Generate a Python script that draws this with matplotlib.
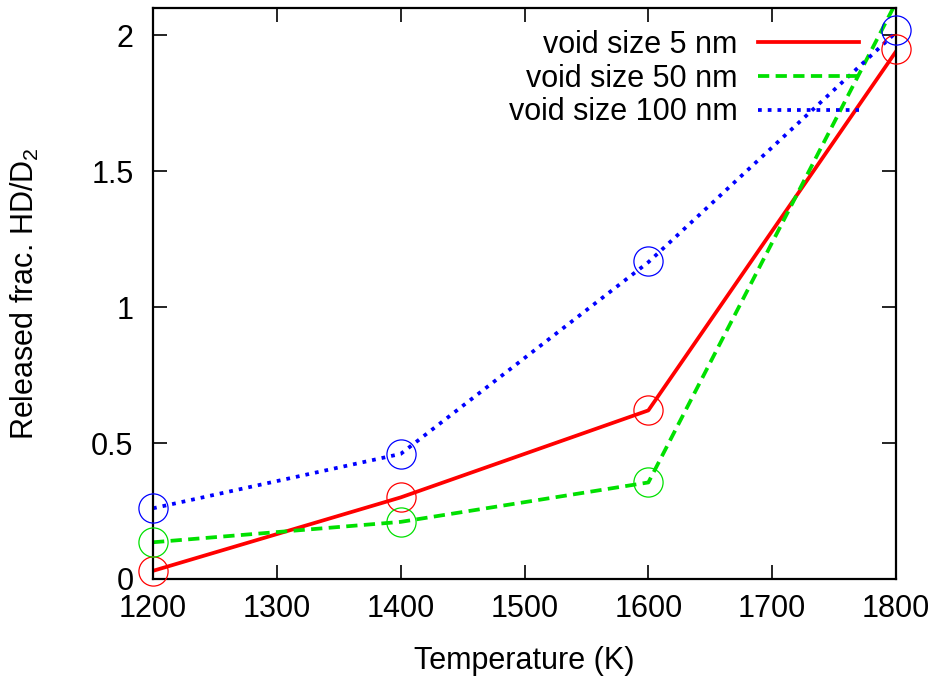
import matplotlib
matplotlib.use("Agg")
import matplotlib.pyplot as plt
import numpy as np

plt.rcParams['font.family'] = ['Liberation Sans', 'DejaVu Sans']
plt.rcParams['mathtext.default'] = 'regular'

temps = [1200, 1400, 1600, 1800]
labels = ["void size 5 nm", "void size 50 nm", "void size 100 nm"]
line_5 = [0.03, 0.30, 0.62, 1.94]
line_50 = [0.135, 0.21, 0.355, 2.12]
line_100 = [0.26, 0.46, 1.165, 2.01]
circ_5 = [0.03, 0.30, 0.62, 1.95]
circ_50 = [0.135, 0.21, 0.355, 2.12]
circ_100 = [0.26, 0.46, 1.17, 2.02]
colors = ['#ff0000', '#00e000', '#0000ff']
xticks = [1200, 1300, 1400, 1500, 1600, 1700, 1800]
yticks = [0, 0.5, 1, 1.5, 2]
ytick_labels = ['0', '0.5', '1', '1.5', '2']
ymax = 2.1

fig = plt.figure(figsize=(9.4, 6.79), dpi=100)
ax = fig.add_axes([0.1628, 0.1473, 0.7904, 0.8410])

styles = [dict(linestyle='-'), dict(linestyle=(0, (3.0, 1.7))), dict(linestyle=(0, (1.0, 1.6)))]
lines = [line_5, line_50, line_100]
circs = [circ_5, circ_50, circ_100]
for lv, cv, c, lab, st in zip(lines, circs, colors, labels, styles):
    ax.plot(temps, lv, color=c, lw=2.7, label=lab, **st)
    xs = [t for t, v in zip(temps, cv) if v <= ymax]
    ys = [v for v in cv if v <= ymax]
    ax.plot(xs, ys, linestyle='none', marker='o', markersize=21,
            markerfacecolor='none', markeredgecolor=c, markeredgewidth=0.9,
            clip_on=False, zorder=3)

ax.set_xlim(1200, 1800)
ax.set_ylim(0, ymax)
ax.set_xticks(xticks)
ax.set_yticks(yticks)
ax.set_yticklabels(ytick_labels)
ax.tick_params(direction='in', length=10, width=1.2, top=True, right=True,
               labelsize=22)
ax.tick_params(axis='x', pad=11)
ax.tick_params(axis='y', pad=14)
for s in ax.spines.values():
    s.set_linewidth(1.6)
ax.set_xlabel('Temperature (K)', fontsize=22, labelpad=16)
ax.set_ylabel('Released frac. HD/D$_2$', fontsize=22, labelpad=36)

leg = ax.legend(loc='upper right', bbox_to_anchor=(0.966, 0.983), frameon=False,
                markerfirst=False, fontsize=22, handlelength=3.3,
                labelspacing=0.12, handletextpad=0.65, borderaxespad=0)
for t in leg.get_texts():
    t.set_ha('right')
fig.savefig('out.png', dpi=100)
